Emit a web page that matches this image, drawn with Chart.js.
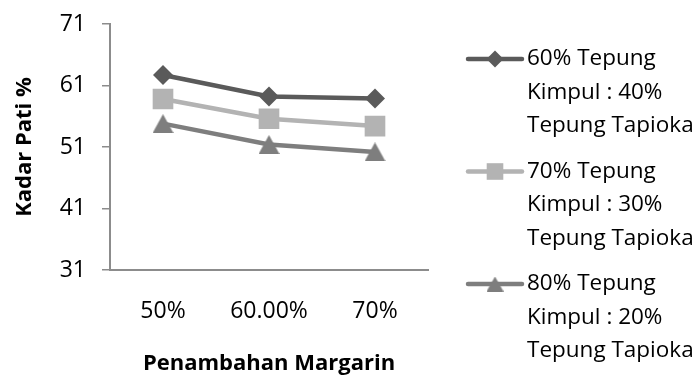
<!DOCTYPE html>
<html>
<head>
<meta charset="utf-8">
<script src="https://cdn.jsdelivr.net/npm/chart.js@4/dist/chart.umd.min.js"></script>
<style>
  html, body { margin: 0; padding: 0; background: #fff; }
  #wrap { width: 698px; height: 377px; }
</style>
</head>
<body>
<div id="wrap"><canvas id="chart" width="698" height="377"></canvas></div>
<script>
// Kadar pati per penambahan margarin
const categories = ['50%', '60.00%', '70%'];
const seriesLabels = [
  ['60% Tepung', 'Kimpul : 40%', 'Tepung Tapioka'],
  ['70% Tepung', 'Kimpul : 30%', 'Tepung Tapioka'],
  ['80% Tepung', 'Kimpul : 20%', 'Tepung Tapioka']
];
const series60 = [62.7, 59.2, 58.9];
const series70 = [58.8, 55.6, 54.4];
const series80 = [54.8, 51.4, 50.2];
const yTicks = [31, 41, 51, 61, 71];

const FONT = '"Open Sans", "Noto Sans", sans-serif';
const AXIS = '#8c8c8c';
const DARK = '#5a5a5a', LIGHT = '#b3b3b3', MID = '#7e7e7e';

// triangle marker centred on its bounding box
function makeTriangle(w, h, color) {
  const c = document.createElement('canvas');
  c.width = w; c.height = h;
  const g = c.getContext('2d');
  g.fillStyle = color;
  g.beginPath();
  g.moveTo(w / 2, 0);
  g.lineTo(w, h);
  g.lineTo(0, h);
  g.closePath();
  g.fill();
  return c;
}
const triPlot = makeTriangle(21, 19, MID);
const triLegend = makeTriangle(17, 15, MID);

const legendMarkers = [
  { kind: 'diamond', r: 8.5 },
  { kind: 'square', half: 8.3 },
  { kind: 'image', img: triLegend }
];

// multi-line legend on the right
const sideLegend = {
  id: 'sideLegend',
  afterDraw(chart) {
    const ctx = chart.ctx;
    const tops = [59, 171.5, 284];
    const lineGap = 33.3;
    ctx.save();
    chart.data.datasets.forEach((ds, i) => {
      const y = tops[i];
      ctx.strokeStyle = ds.borderColor;
      ctx.lineWidth = 4.5;
      ctx.lineCap = 'round';
      ctx.beginPath();
      ctx.moveTo(468, y);
      ctx.lineTo(522, y);
      ctx.stroke();
      const m = legendMarkers[i];
      const cx = 495;
      ctx.fillStyle = ds.borderColor;
      if (m.kind === 'diamond') {
        ctx.beginPath();
        ctx.moveTo(cx, y - m.r);
        ctx.lineTo(cx + m.r, y);
        ctx.lineTo(cx, y + m.r);
        ctx.lineTo(cx - m.r, y);
        ctx.closePath();
        ctx.fill();
      } else if (m.kind === 'square') {
        ctx.fillRect(cx - m.half, y - m.half, m.half * 2, m.half * 2);
      } else {
        ctx.drawImage(m.img, cx - m.img.width / 2, y - m.img.height / 2);
      }
      ctx.fillStyle = '#000';
      ctx.font = '22.5px ' + FONT;
      ctx.textAlign = 'left';
      ctx.textBaseline = 'middle';
      seriesLabels[i].forEach((t, k) => ctx.fillText(t, 527, y + k * lineGap));
    });
    ctx.restore();
  }
};

new Chart(document.getElementById('chart'), {
  type: 'line',
  data: {
    labels: categories,
    datasets: [
      {
        label: seriesLabels[0].join(' '),
        data: series60,
        borderColor: DARK, backgroundColor: DARK,
        borderWidth: 4.5,
        pointStyle: 'rectRot', pointRadius: 10, pointBorderWidth: 0,
        pointBackgroundColor: DARK
      },
      {
        label: seriesLabels[1].join(' '),
        data: series70,
        borderColor: LIGHT, backgroundColor: LIGHT,
        borderWidth: 4.5,
        pointStyle: 'rect', pointRadius: 14.6, pointBorderWidth: 0,
        pointBackgroundColor: LIGHT
      },
      {
        label: seriesLabels[2].join(' '),
        data: series80,
        borderColor: MID, backgroundColor: MID,
        borderWidth: 4.5,
        pointStyle: triPlot, pointRadius: 10, pointBorderWidth: 0,
        pointBackgroundColor: MID
      }
    ]
  },
  options: {
    responsive: false,
    animation: false,
    events: [],
    layout: { padding: { top: 24, right: 270, bottom: 0, left: 0 } },
    plugins: {
      legend: { display: false },
      tooltip: { enabled: false }
    },
    scales: {
      x: {
        type: 'category',
        offset: true,
        afterFit(s) { s.height = 107; },
        grid: { display: false },
        border: { display: true, color: AXIS, width: 2 },
        ticks: { color: '#000', padding: 20, maxRotation: 0, font: { family: FONT, size: 23 } },
        title: {
          display: true,
          text: 'Penambahan Margarin',
          color: '#000',
          font: { family: FONT, size: 22, weight: 'bold' },
          padding: { top: 0, bottom: 0 }
        }
      },
      y: {
        min: 31,
        max: 71,
        afterFit(s) { s.width = 110; s.paddingTop = 0; s.paddingBottom = 0; },
        afterBuildTicks(s) { s.ticks = yTicks.map(v => ({ value: v })); },
        grid: { drawOnChartArea: false, drawTicks: true, tickLength: 8, color: AXIS, lineWidth: 1.5 },
        border: { display: true, color: AXIS, width: 2 },
        ticks: { color: '#000', padding: 16, font: { family: FONT, size: 23 } },
        title: {
          display: true,
          text: 'Kadar Pati %',
          color: '#000',
          font: { family: FONT, size: 22, weight: 'bold' },
          padding: { top: 12, bottom: 0 }
        }
      }
    }
  },
  plugins: [sideLegend]
});
</script>
</body>
</html>
